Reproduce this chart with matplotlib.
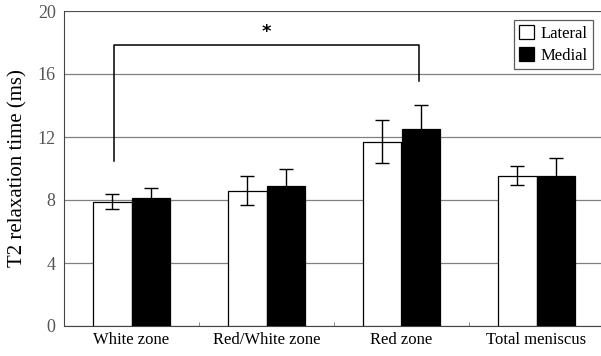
import matplotlib.pyplot as plt
import numpy as np

plt.rcParams['font.family'] = ['Liberation Serif', 'DejaVu Serif']

zones = ['White zone', 'Red/White zone', 'Red zone', 'Total meniscus']
lateral = [7.9, 8.6, 11.7, 9.55]
lateral_err = [0.45, 0.9, 1.37, 0.62]
medial = [8.15, 8.9, 12.5, 9.55]
medial_err = [0.6, 1.1, 1.55, 1.14]

fig = plt.figure(figsize=(6.01, 3.56), dpi=100)
ax = fig.add_axes([64 / 601, 30 / 356, 540 / 601, 315 / 356])

x = np.arange(len(zones))
w = 0.285
ax.bar(x - w / 2, lateral, w, color='white', edgecolor='black', linewidth=0.9,
       yerr=lateral_err, capsize=5, error_kw=dict(elinewidth=1, capthick=1), label='Lateral', zorder=3)
ax.bar(x + w / 2, medial, w, color='black', edgecolor='black', linewidth=0.9,
       yerr=medial_err, capsize=5, error_kw=dict(elinewidth=1, capthick=1), label='Medial', zorder=3)

ax.set_ylim(0, 20)
ax.set_xlim(-0.5, 3.5)
ax.set_yticks([0, 4, 8, 12, 16, 20])
ax.yaxis.grid(True, color='#808080', linewidth=0.9, zorder=0)
ax.axhline(20, color='#444444', linewidth=1.2, zorder=1)
ax.set_axisbelow(True)
for s in ['top', 'right']:
    ax.spines[s].set_visible(False)
ax.spines['left'].set_color('#444444')
ax.spines['bottom'].set_color('#444444')
ax.tick_params(axis='y', length=0, labelsize=13, labelcolor='#555555', pad=6)
ax.set_xticks(x)
ax.set_xticklabels(zones, fontsize=12)
ax.tick_params(axis='x', length=0, pad=4)
ax.set_xticks([0.5, 1.5, 2.5], minor=True)
ax.tick_params(axis='x', which='minor', direction='in', length=3, color='#777777')
ax.set_ylabel('T2 relaxation time (ms)', fontsize=15, labelpad=7)

# significance bracket
ax.plot([-0.13, -0.13, 2.13, 2.13], [10.5, 17.85, 17.85, 15.55], color='black', linewidth=1.1)
ax.text(1.0, 18.1, '*', ha='center', va='bottom', fontsize=13, fontweight='bold', family='DejaVu Sans')

leg = ax.legend(loc='upper right', bbox_to_anchor=(529 / 540, 0.97),
                fontsize=12, frameon=True, fancybox=False, edgecolor='#333333',
                handlelength=0.9, handleheight=0.9, handletextpad=0.4, borderpad=0.3,
                labelspacing=0.3, borderaxespad=0)
leg.get_frame().set_linewidth(0.9)

fig.savefig('out.png', dpi=100)
